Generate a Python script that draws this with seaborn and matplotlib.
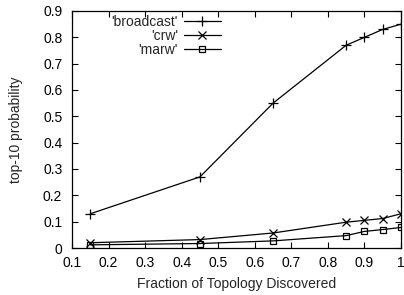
import matplotlib

matplotlib.use("Agg")
import matplotlib.pyplot as plt
import pandas as pd
import seaborn as sns

# Values
fraction = [0.15, 0.45, 0.65, 0.85, 0.90, 0.95, 1.00]
broadcast = [0.13, 0.27, 0.55, 0.77, 0.80, 0.83, 0.85]
crw = [0.02, 0.032, 0.057, 0.098, 0.105, 0.112, 0.13]
marw = [0.012, 0.017, 0.027, 0.047, 0.063, 0.07, 0.078]

series = {"'broadcast'": broadcast, "'crw'": crw, "'marw'": marw}
markers = {"'broadcast'": "+", "'crw'": "x", "'marw'": "s"}
msizes = {"'broadcast'": 6.5, "'crw'": 6, "'marw'": 5}

df = pd.DataFrame(
    [(x, name, y) for name, ys in series.items() for x, y in zip(fraction, ys)],
    columns=["fraction", "series", "prob"],
)

sns.set_style("ticks")
plt.rcParams["font.family"] = ["Liberation Sans", "DejaVu Sans"]

fig = plt.figure(figsize=(4.04, 2.95), dpi=100)
ax = fig.add_axes([72 / 404, 1 - 248 / 295, (401 - 72) / 404, (248 - 11) / 295])

for name in series:
    sub = df[df["series"] == name]
    sns.lineplot(
        data=sub, x="fraction", y="prob", ax=ax, color="black", linewidth=0.9,
        marker=markers[name], markersize=msizes[name], markeredgewidth=0.9,
        markerfacecolor="none", markeredgecolor="black", label=name,
    )

ax.set_xlim(0.1, 1.0)
ax.set_ylim(0, 0.9)
ax.set_xticks([0.1, 0.2, 0.3, 0.4, 0.5, 0.6, 0.7, 0.8, 0.9, 1.0])
ax.set_xticklabels(["0.1", "0.2", "0.3", "0.4", "0.5", "0.6", "0.7", "0.8", "0.9", "1"])
ax.set_yticks([0, 0.1, 0.2, 0.3, 0.4, 0.5, 0.6, 0.7, 0.8, 0.9])
ax.set_yticklabels(["0", "0.1", "0.2", "0.3", "0.4", "0.5", "0.6", "0.7", "0.8", "0.9"])
ax.tick_params(direction="in", top=True, right=True, length=4, width=0.8,
               labelsize=10, colors="black")
ax.tick_params(axis="x", pad=6)
ax.tick_params(axis="y", pad=7)
for sp in ax.spines.values():
    sp.set_color("black")
    sp.set_linewidth(0.9)

ax.set_xlabel("Fraction of Topology Discovered", fontsize=10, labelpad=5)
ax.set_ylabel("top-10 probability", fontsize=10, labelpad=14)

# markerfirst=False right-aligns the labels, gnuplot style
ax.legend(loc="upper right", bbox_to_anchor=(221 / 404, 1 - 15 / 295),
          bbox_transform=fig.transFigure, frameon=False, markerfirst=False,
          fontsize=10, handlelength=2.7, labelspacing=0.0, handletextpad=0.4,
          borderaxespad=0, borderpad=0)

fig.savefig("out.png", dpi=100)
